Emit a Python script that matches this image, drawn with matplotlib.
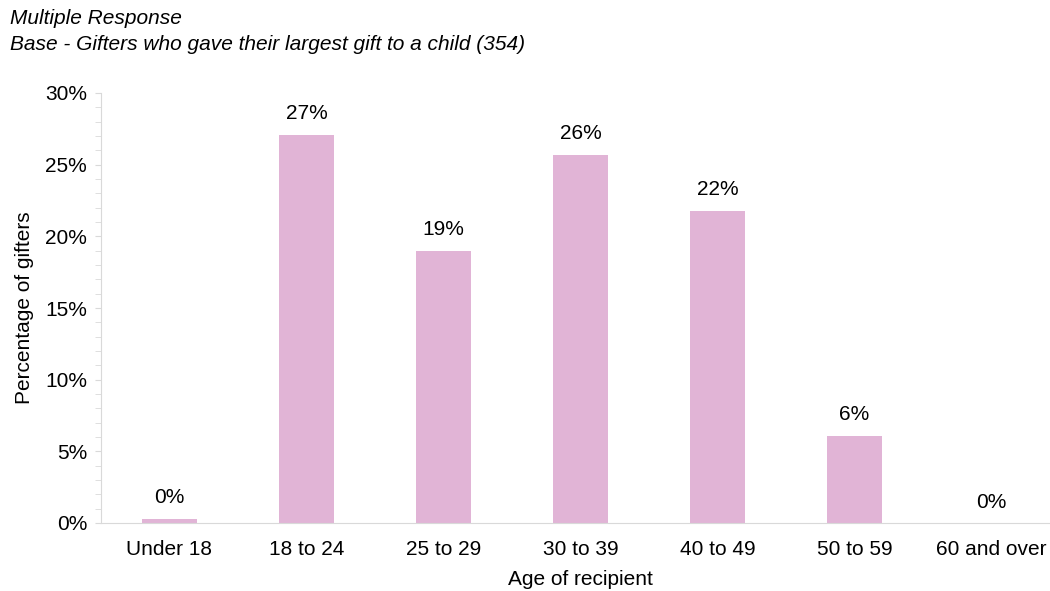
import matplotlib
matplotlib.use('Agg')
import matplotlib.pyplot as plt
from matplotlib.ticker import MultipleLocator, PercentFormatter

plt.rcParams['font.family'] = ['Liberation Sans', 'DejaVu Sans']

categories = ['Under 18', '18 to 24', '25 to 29', '30 to 39', '40 to 49',
              '50 to 59', '60 and over']
values = [0.3, 27.1, 19.0, 25.7, 21.8, 6.1, 0.0]
labels = ['0%', '27%', '19%', '26%', '22%', '6%', '0%']

bar_color = '#E1B4D6'
grey = '#D9D9D9'
fs = 15

fig = plt.figure(figsize=(10.5, 5.91), dpi=100)
ax = fig.add_axes([101 / 1050, 68 / 591, 959 / 1050, 430 / 591])

x = range(len(categories))
ax.bar(x, values, width=0.4, color=bar_color)
for xi, v, lab in zip(x, values, labels):
    ax.text(xi, v + 0.8, lab, ha='center', va='bottom', fontsize=fs)

ax.set_xlim(-0.5, len(categories) - 0.5)
ax.set_ylim(0, 30)
ax.yaxis.set_major_locator(MultipleLocator(5))
ax.yaxis.set_minor_locator(MultipleLocator(1))
ax.yaxis.set_major_formatter(PercentFormatter(decimals=0))
ax.set_xticks(list(x))
ax.set_xticklabels(categories)

for side in ['top', 'right']:
    ax.spines[side].set_visible(False)
for side in ['left', 'bottom']:
    ax.spines[side].set_color(grey)
ax.tick_params(axis='y', which='both', colors=grey, labelcolor='black',
               labelsize=fs, length=4, pad=6)
ax.tick_params(axis='x', length=0, labelsize=fs, pad=12)

ax.set_ylabel('Percentage of gifters', fontsize=fs, labelpad=8)
ax.set_xlabel('Age of recipient', fontsize=fs, labelpad=8)

fig.text(10 / 1050, 1 - 18 / 591, 'Multiple Response', fontsize=fs,
         style='italic', va='center', ha='left')
fig.text(10 / 1050, 1 - 44 / 591,
         'Base - Gifters who gave their largest gift to a child (354)',
         fontsize=fs, style='italic', va='center', ha='left')

fig.savefig('out.png', dpi=100)
